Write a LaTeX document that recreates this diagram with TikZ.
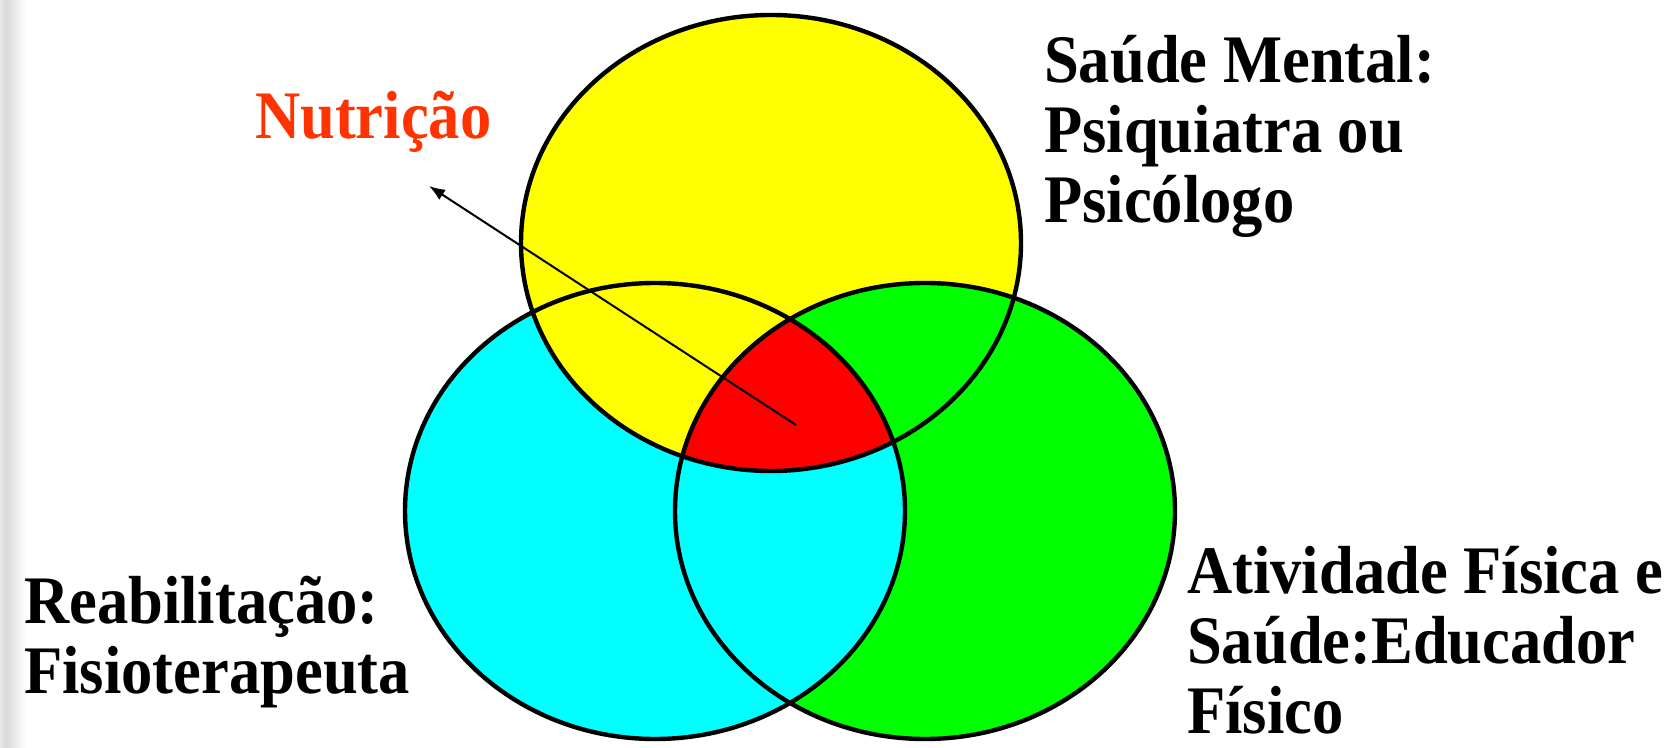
\documentclass[tikz,border=0pt]{standalone}
\usepackage{fontspec}
\setmainfont{Liberation Serif}[FakeStretch=0.92]
\usetikzlibrary{arrows.meta}
\definecolor{yellowfill}{RGB}{255,255,0}
\definecolor{cyanfill}{RGB}{0,255,255}
\definecolor{greenfill}{RGB}{0,255,0}
\definecolor{redfill}{RGB}{255,0,0}
\definecolor{nutri}{RGB}{255,51,0}
\tikzset{
  ovalsize/.style={x radius=250, y radius=228},
  lbl/.style={font=\fontsize{34}{35}\selectfont\bfseries, inner sep=0pt, anchor=base west, align=left},
  pointer/.style={line width=1pt, -{Latex[length=8pt,width=6pt]}}
}
\begin{document}
\begin{tikzpicture}[x=0.5pt, y=-0.5pt, line width=2.2pt]
\useasboundingbox (0,0) rectangle (1676,748);
% grey edge on the left
\shade[left color=gray!18, right color=gray!30] (0,0) rectangle (6,748);
\shade[left color=gray!30, right color=white] (6,0) rectangle (26,748);
% centres
\coordinate (mental) at (771,243);
\coordinate (reab) at (655,511);
\coordinate (ativ) at (925,511);
% fills
\fill[cyanfill] (reab) ellipse [ovalsize];
\fill[greenfill] (ativ) ellipse [ovalsize];
\fill[yellowfill] (mental) ellipse [ovalsize];
\begin{scope}
  \clip (mental) ellipse [ovalsize];
  \fill[greenfill] (ativ) ellipse [ovalsize];
\end{scope}
\begin{scope}
  \clip (reab) ellipse [ovalsize];
  \fill[cyanfill] (ativ) ellipse [ovalsize];
  \clip (mental) ellipse [ovalsize];
  \fill[redfill] (ativ) ellipse [ovalsize];
\end{scope}
% outlines
\draw (mental) ellipse [ovalsize];
\draw (reab) ellipse [ovalsize];
\draw (ativ) ellipse [ovalsize];
% labels (anchored on the last baseline)
\node[lbl, text=nutri] (nutricao) at (253,139) {Nutrição};
\node[lbl] (saudemental) at (1042,223) {Saúde Mental:\\Psiquiatra ou\\Psicólogo};
\node[lbl] (atividade) at (1185,733) {Atividade Física e\\Saúde:Educador\\Físico};
\node[lbl] (reabilitacao) at (22,693) {Reabilitação:\\Fisioterapeuta};
% arrow
\coordinate (tail) at (796,425);
\coordinate (tip) at (429,186);
\draw[pointer] (tail) -- (tip);
\end{tikzpicture}
\end{document}
